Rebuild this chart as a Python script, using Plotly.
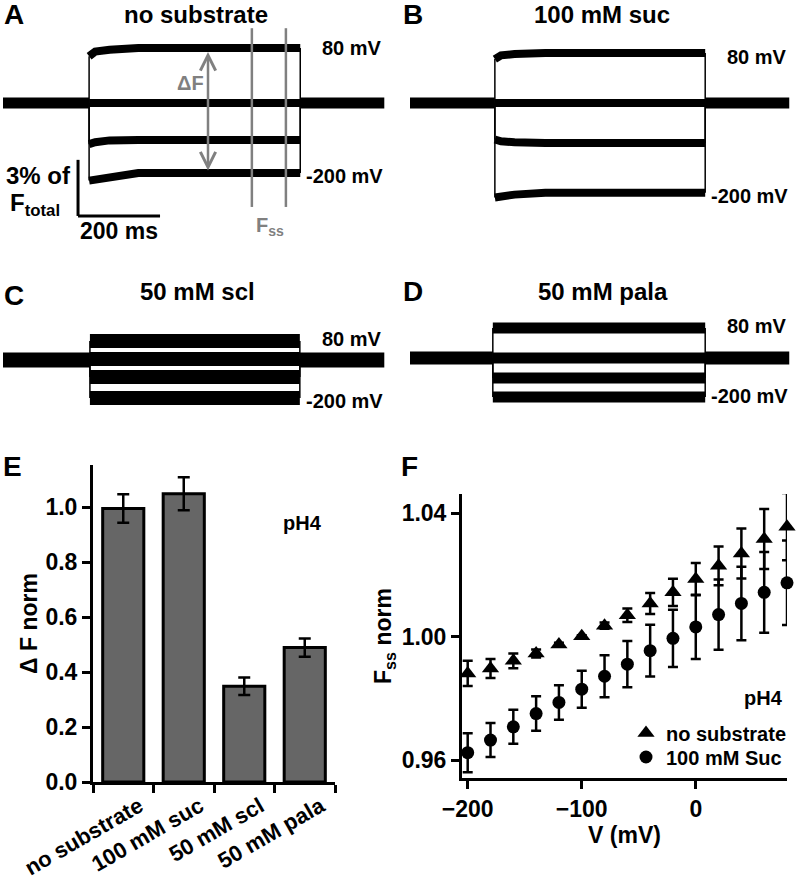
import plotly.graph_objects as go

W, H = 796, 877
FONT = "Liberation Sans, Arial, sans-serif"
GRAY = "#808080"

# ---- panels A-D: fluorescence recordings (% of F_total vs time in ms)
A_T = [210, 225, 260, 330, 725]
A_STEPS = [
    [2.50, 2.75, 2.85, 2.94, 2.94],      # 80 mV
    [0.0, 0.0, 0.0, 0.0, 0.0],
    [-2.20, -2.10, -2.00, -1.98, -1.98],
    [-4.15, -4.10, -3.90, -3.74, -3.74],  # -200 mV
]
A_END = 930

B_T = [207, 222, 255, 330, 720]
B_STEPS = [
    [2.35, 2.55, 2.62, 2.67, 2.67],
    [0.0, 0.0, 0.0, 0.0, 0.0],
    [-1.95, -2.05, -2.10, -2.14, -2.14],
    [-5.05, -5.00, -4.90, -4.80, -4.80],
]
B_END = 925

C_T = [212, 724]
C_STEPS = [[1.02, 1.02], [0.05, 0.05], [-0.91, -0.91], [-2.03, -2.03]]
C_END = 930

D_T = [202, 720]
D_STEPS = [[1.60, 1.60], [0.0, 0.0], [-1.07, -1.07], [-2.09, -2.09]]
D_END = 925

SCALE_MS, SCALE_PCT = 200, 3

# ---- panel E: normalised fluorescence change
E_LABELS = ["no substrate", "100 mM suc", "50 mM scl", "50 mM pala"]
E_DF = [0.995, 1.048, 0.348, 0.489]
E_ERR = [0.052, 0.060, 0.032, 0.033]

# ---- panel F: steady-state fluorescence vs voltage
F_V = [-200, -180, -160, -140, -120, -100, -80, -60, -40, -20, 0, 20, 40, 60, 80]
F_NOSUB = [0.9881, 0.9897, 0.9922, 0.9946, 0.9975, 1.0002, 1.0036, 1.0070,
           1.0108, 1.0144, 1.0187, 1.0230, 1.0270, 1.0317, 1.0357]
F_NOSUB_ERR = [0.0041, 0.0031, 0.0024, 0.0013, 0.0006, 0.0003, 0.0010, 0.0022,
               0.0034, 0.0044, 0.0052, 0.0063, 0.0081, 0.0097, 0.0109]
F_SUC = [0.9624, 0.9665, 0.9708, 0.9751, 0.9787, 0.9830, 0.9872, 0.9911,
         0.9955, 0.9995, 1.0032, 1.0072, 1.0108, 1.0144, 1.0175]
F_SUC_ERR = [0.0063, 0.0055, 0.0055, 0.0056, 0.0056, 0.0060, 0.0068, 0.0075,
             0.0084, 0.0093, 0.0104, 0.0114, 0.0119, 0.0131, 0.0137]

PX_MS, PX_PCT = 0.41, 18.7   # recording scale, pixels per ms / per %


def px(x, y):
    return x / W, 1 - y / H


def dom(x0, x1, y0, y1):
    return [x0 / W, x1 / W], [1 - y1 / H, 1 - y0 / H]


def rec_axes(box, x_origin, y_base):
    x0, y0, x1, y1 = box
    dx, dy = dom(x0, x1, y0, y1)
    xa = dict(domain=dx, range=[(x0 - x_origin) / PX_MS, (x1 - x_origin) / PX_MS],
              visible=False, automargin=False, fixedrange=True)
    ya = dict(domain=dy, range=[(y_base - y1) / PX_PCT, (y_base - y0) / PX_PCT],
              visible=False, automargin=False, fixedrange=True)
    return xa, ya


def add_recording(fig, n, t, steps, t_end, w_step, w_base):
    xr, yr = f"x{n}", f"y{n}"
    fig.add_trace(go.Scatter(x=[0, t[0], None, t[-1], t_end], y=[0, 0, None, 0, 0],
                             mode="lines", line=dict(color="black", width=w_base),
                             xaxis=xr, yaxis=yr, showlegend=False, hoverinfo="skip"))
    thick_x, thick_y, thin_x, thin_y = [], [], [], []
    for lv in steps:
        thick_x += list(t) + [None]
        thick_y += list(lv) + [None]
        thin_x += [t[0], t[0], None, t[-1], t[-1], None]
        thin_y += [0, lv[0], None, lv[-1], 0, None]
    fig.add_trace(go.Scatter(x=thin_x, y=thin_y, mode="lines", line=dict(color="black", width=1.5),
                             xaxis=xr, yaxis=yr, showlegend=False, hoverinfo="skip"))
    fig.add_trace(go.Scatter(x=thick_x, y=thick_y, mode="lines", line=dict(color="black", width=w_step),
                             xaxis=xr, yaxis=yr, showlegend=False, hoverinfo="skip"))


fig = go.Figure()

add_recording(fig, 3, A_T, A_STEPS, A_END, 8, 11)
add_recording(fig, 4, B_T, B_STEPS, B_END, 8, 11)
add_recording(fig, 5, C_T, C_STEPS, C_END, 14, 15)
add_recording(fig, 6, D_T, D_STEPS, D_END, 11, 13)

# panel E bars
fig.add_trace(go.Bar(
    x=E_LABELS, y=E_DF, width=0.68,
    marker=dict(color="#666666", line=dict(color="black", width=3)),
    error_y=dict(type="data", array=E_ERR, color="black", thickness=2.5, width=6),
    xaxis="x", yaxis="y", showlegend=False,
))

# panel F points
fig.add_trace(go.Scatter(
    x=F_V, y=F_NOSUB, mode="markers", name="no substrate", legend="legend",
    marker=dict(symbol="triangle-up", size=15, color="black"),
    error_y=dict(type="data", array=F_NOSUB_ERR, color="black", thickness=2.5, width=5),
    xaxis="x2", yaxis="y2", cliponaxis=False,
))
fig.add_trace(go.Scatter(
    x=F_V, y=F_SUC, mode="markers", name="100 mM Suc", legend="legend2",
    marker=dict(symbol="circle", size=13, color="black"),
    error_y=dict(type="data", array=F_SUC_ERR, color="black", thickness=2.5, width=5),
    xaxis="x2", yaxis="y2", cliponaxis=False,
))

tick_font = dict(family=FONT, size=23, color="black", weight="bold")
axis_common = dict(showline=True, linecolor="black", linewidth=3, ticks="outside",
                   ticklen=8, tickwidth=3, tickcolor="black", showgrid=False,
                   zeroline=False, tickfont=tick_font, fixedrange=True, automargin=False)

ex_dom, ey_dom = dom(93, 335, 465, 782)
fx_dom, fy_dom = dom(462, 787, 494, 778)

e_x_axis = dict(axis_common, tickfont=dict(tick_font, size=22))
layout_axes = dict(
    xaxis=dict(domain=ex_dom, anchor="y", type="category", range=[-0.5, 3.5],
               tickson="boundaries", tickangle=-30, ticklabelshift=16, **e_x_axis),
    yaxis=dict(domain=ey_dom, anchor="x", range=[0, 1.153], dtick=0.2, tickformat=".1f",
               title=dict(text="Δ F norm", font=tick_font, standoff=2), **axis_common),
    xaxis2=dict(domain=fx_dom, anchor="y2", range=[-205, 80], tick0=0, dtick=100,
                title=dict(text="V (mV)", font=tick_font, standoff=2), **axis_common),
    yaxis2=dict(domain=fy_dom, anchor="x2", range=[0.9542, 1.0463],
                tickvals=[0.96, 1.00, 1.04], tickformat=".2f",
                title=dict(text="F<sub>ss</sub> norm", font=tick_font, standoff=4), **axis_common),
)
for n, (box, xo, yb) in {3: ((0, 0, 400, 250), 3, 103), 4: ((400, 0, 796, 250), 410, 103),
                         5: ((0, 250, 400, 450), 3, 360), 6: ((400, 250, 796, 450), 410, 358)}.items():
    xa, ya = rec_axes(box, xo, yb)
    xa["anchor"], ya["anchor"] = f"y{n}", f"x{n}"
    layout_axes[f"xaxis{n}"] = xa
    layout_axes[f"yaxis{n}"] = ya

annotations = []


def label(text, x, y, size, color="black", xanchor="center"):
    ax, ay = px(x, y)
    annotations.append(dict(text=text, x=ax, y=ay, xref="paper", yref="paper",
                            xanchor=xanchor, yanchor="middle", showarrow=False,
                            font=dict(family=FONT, size=size, color=color, weight="bold")))


# panel letters and titles
for letter, x, y in [("A", 14, 15), ("B", 413, 15), ("C", 14, 295), ("D", 413, 292),
                     ("E", 12, 466), ("F", 410, 466)]:
    label(letter, x, y, 28)
for title, x, y in [("no substrate", 196, 14), ("100 mM suc", 602, 14),
                    ("50 mM scl", 197, 292), ("50 mM pala", 603, 292)]:
    label(title, x, y, 24)
for x, y80, y200 in [(352, 48, 176), (757, 57, 196), (352, 339, 401), (757, 326, 396)]:
    label("80 mV", x, y80, 20)
    label("-200 mV", x - 8, y200, 20)

# scale bar labels, ΔF and F_ss markers in panel A
label("3% of", 38, 175, 24)
label("F<sub>total</sub>", 8, 205, 24, xanchor="left")
label("200 ms", 119, 231, 23)
label("ΔF", 190, 83, 20, color=GRAY)
label("F<sub>ss</sub>", 270, 226, 20, color=GRAY)
label("pH4", 302, 523, 20)
label("pH4", 763, 698, 20)

annotations.append(dict(
    x=500, y=2.73, ax=500, ay=-3.69, xref="x3", yref="y3", axref="x3", ayref="y3",
    text="", showarrow=True, arrowhead=5, startarrowhead=5, arrowside="end+start",
    arrowsize=1.2, startarrowsize=1.2, arrowwidth=2.5, arrowcolor=GRAY,
))

shapes = [
    # F_ss window
    dict(type="line", xref="x3", yref="y3", x0=607, x1=607, y0=4.0, y1=-5.56,
         line=dict(color=GRAY, width=2.5)),
    dict(type="line", xref="x3", yref="y3", x0=690, x1=690, y0=4.0, y1=-5.56,
         line=dict(color=GRAY, width=2.5)),
    # scale bar
    dict(type="line", xref="x3", yref="y3", x0=183, x1=183, y0=-3.04, y1=-3.04 - SCALE_PCT,
         line=dict(color="black", width=3)),
    dict(type="line", xref="x3", yref="y3", x0=183, x1=183 + SCALE_MS, y0=-3.04 - SCALE_PCT,
         y1=-3.04 - SCALE_PCT, line=dict(color="black", width=3)),
]

legend_style = dict(xanchor="left", yanchor="middle", bgcolor="rgba(0,0,0,0)",
                    font=dict(family=FONT, size=20, color="black", weight="bold"),
                    itemwidth=30)
l1x, l1y = px(626, 733)
l2x, l2y = px(626, 757)
fig.update_layout(
    width=W, height=H,
    margin=dict(l=0, r=0, t=0, b=0, autoexpand=False),
    paper_bgcolor="white", plot_bgcolor="white",
    font=dict(family=FONT, color="black", weight="bold"),
    showlegend=True,
    legend=dict(x=l1x, y=l1y, **legend_style),
    legend2=dict(x=l2x, y=l2y, **legend_style),
    annotations=annotations,
    shapes=shapes,
    **layout_axes,
)

fig.write_html("out.html", config={"displayModeBar": False},
               post_script="document.body.style.margin='0';")
